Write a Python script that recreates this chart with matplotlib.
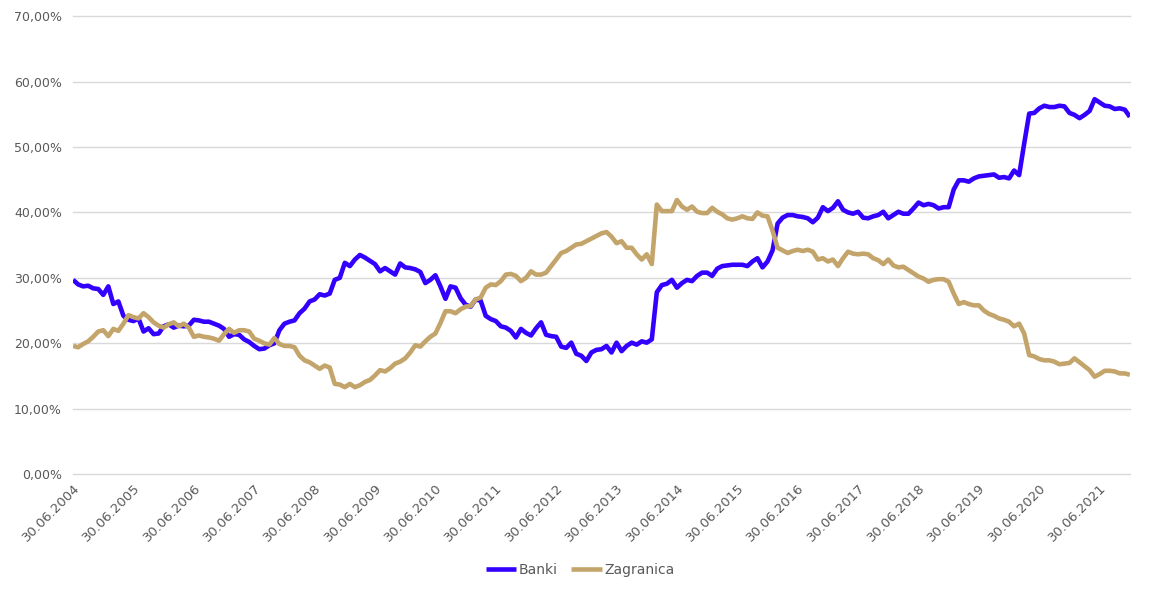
import matplotlib
matplotlib.use("Agg")
import matplotlib.pyplot as plt
from matplotlib.ticker import FuncFormatter, FixedLocator

# Monthly observations from 30.06.2004 to 31.12.2021 (shares, %)
banki = [
    29.7, 29.0, 28.7, 28.8, 28.4, 28.3, 27.4, 28.7, 26.0, 26.4, 24.2, 23.6,
    23.4, 23.8, 21.8, 22.3, 21.4, 21.5, 22.6, 22.9, 22.4, 22.7, 22.6, 22.7,
    23.6, 23.5, 23.3, 23.3, 23.0, 22.7, 22.2, 21.0, 21.4, 21.3, 20.6, 20.2,
    19.6, 19.1, 19.2, 19.7, 20.0, 22.0, 23.0, 23.3, 23.5, 24.6, 25.3, 26.4,
    26.7, 27.5, 27.3, 27.6, 29.7, 30.0, 32.3, 31.8, 32.8, 33.5, 33.1, 32.6,
    32.1, 31.0, 31.5, 31.0, 30.5, 32.2, 31.6, 31.5, 31.3, 30.9, 29.2, 29.7,
    30.4, 28.7, 26.8, 28.7, 28.5, 26.9, 25.9, 25.6, 26.7, 26.5, 24.2, 23.7,
    23.4, 22.6, 22.4, 21.9, 20.9, 22.2, 21.6, 21.2, 22.3, 23.2, 21.3, 21.1,
    21.0, 19.5, 19.3, 20.1, 18.4, 18.1, 17.3, 18.6, 19.0, 19.1, 19.6, 18.6,
    20.1, 18.8, 19.6, 20.1, 19.8, 20.3, 20.1, 20.6, 27.8, 28.9, 29.1, 29.7,
    28.5, 29.2, 29.7, 29.5, 30.3, 30.8, 30.8, 30.3, 31.4, 31.8, 31.9, 32.0,
    32.0, 32.0, 31.8, 32.5, 33.0, 31.6, 32.5, 34.2, 38.3, 39.2, 39.6, 39.6,
    39.4, 39.3, 39.1, 38.5, 39.2, 40.8, 40.2, 40.7, 41.7, 40.4, 40.0, 39.8,
    40.1, 39.2, 39.1, 39.4, 39.6, 40.1, 39.1, 39.6, 40.1, 39.8, 39.8, 40.6,
    41.5, 41.1, 41.3, 41.1, 40.6, 40.8, 40.8, 43.5, 44.9, 44.9, 44.7, 45.2,
    45.5, 45.6, 45.7, 45.8, 45.3, 45.4, 45.2, 46.4, 45.7, 50.5, 55.1, 55.2,
    55.9, 56.3, 56.1, 56.1, 56.3, 56.2, 55.2, 54.9, 54.4, 54.9, 55.5, 57.3,
    56.8, 56.3, 56.2, 55.8, 55.9, 55.7, 54.6,
]

zagranica = [
    19.6, 19.4, 19.9, 20.3, 21.0, 21.8, 22.0, 21.1, 22.2, 21.9, 23.0, 24.3,
    24.0, 23.8, 24.6, 24.0, 23.2, 22.7, 22.4, 22.9, 23.2, 22.6, 23.0, 22.4,
    21.0, 21.2, 21.0, 20.9, 20.7, 20.4, 21.4, 22.2, 21.6, 22.0, 22.0, 21.8,
    20.7, 20.4, 20.0, 19.8, 20.8, 19.9, 19.6, 19.6, 19.4, 18.1, 17.4, 17.1,
    16.6, 16.1, 16.6, 16.3, 13.8, 13.7, 13.3, 13.8, 13.3, 13.6, 14.1, 14.4,
    15.1, 15.9, 15.7, 16.2, 16.9, 17.2, 17.7, 18.6, 19.7, 19.5, 20.3, 21.0,
    21.5, 23.1, 24.9, 24.9, 24.6, 25.2, 25.6, 25.7, 26.7, 27.0, 28.5, 29.0,
    28.9, 29.5, 30.5, 30.6, 30.3, 29.5, 30.0, 31.0, 30.5, 30.5, 30.8, 31.8,
    32.8, 33.8, 34.1, 34.6, 35.1, 35.2, 35.6, 36.0, 36.4, 36.8, 37.0, 36.3,
    35.3, 35.6, 34.6, 34.6, 33.6, 32.8, 33.6, 32.1, 41.2, 40.2, 40.2, 40.2,
    41.9, 40.9, 40.4, 40.9, 40.1, 39.9, 39.9, 40.7, 40.1, 39.7, 39.1, 38.9,
    39.1, 39.4, 39.1, 39.0, 40.0, 39.5, 39.4, 37.2, 34.6, 34.2, 33.8, 34.1,
    34.3, 34.1, 34.3, 34.0, 32.8, 33.0, 32.5, 32.8, 31.8, 33.0, 34.0, 33.7,
    33.6, 33.7, 33.6, 33.0, 32.7, 32.1, 32.8, 31.9, 31.6, 31.7, 31.2, 30.7,
    30.2, 29.9, 29.4, 29.7, 29.8, 29.8, 29.4, 27.6, 26.0, 26.3, 26.0, 25.8,
    25.8, 25.0, 24.5, 24.2, 23.8, 23.6, 23.3, 22.6, 23.0, 21.5, 18.2, 18.0,
    17.6, 17.4, 17.4, 17.2, 16.8, 16.9, 17.0, 17.7, 17.1, 16.5, 15.9, 14.9,
    15.3, 15.8, 15.8, 15.7, 15.4, 15.4, 15.2,
]

tick_labels = ["30.06.2004", "30.06.2005", "30.06.2006", "30.06.2007",
               "30.06.2008", "30.06.2009", "30.06.2010", "30.06.2011",
               "30.06.2012", "30.06.2013", "30.06.2014", "30.06.2015",
               "30.06.2016", "30.06.2017", "30.06.2018", "30.06.2019",
               "30.06.2020", "30.06.2021"]
series_names = ["Banki", "Zagranica"]

BLUE = "#3300FF"
TAN = "#C3A46B"
TXT = "#595959"
GRID = "#D9D9D9"

plt.rcParams["font.family"] = ["DejaVu Sans"]

fig = plt.figure(figsize=(11.6, 5.95), dpi=100)
ax = fig.add_axes([0.063, 0.203, 0.911, 0.770])

months = list(range(len(banki)))
ax.plot(months, banki, color=BLUE, lw=3.3, label=series_names[0],
        solid_joinstyle="round", solid_capstyle="butt", zorder=3)
ax.plot(months, zagranica, color=TAN, lw=3.3, label=series_names[1],
        solid_joinstyle="round", solid_capstyle="butt", zorder=4)

ax.set_xlim(0, len(banki) - 1)
ax.set_ylim(0, 70)
ax.yaxis.set_major_locator(FixedLocator([0, 10, 20, 30, 40, 50, 60, 70]))
ax.yaxis.set_major_formatter(FuncFormatter(lambda v, p: f"{v:.2f}%".replace(".", ",")))
ax.set_xticks([12 * i for i in range(len(tick_labels))])
ax.set_xticklabels(tick_labels, rotation=45, ha="right", rotation_mode="anchor")

ax.grid(axis="y", color=GRID, lw=1.0, zorder=0)
for gl in ax.get_ygridlines():
    gl.set_clip_on(False)
ax.set_axisbelow(True)
for s in ax.spines.values():
    s.set_visible(False)
ax.tick_params(axis="both", length=0, colors=TXT)
ax.tick_params(axis="y", pad=8, labelsize=9)
ax.tick_params(axis="x", pad=5, labelsize=9.5)

leg = fig.legend(loc="center", bbox_to_anchor=(0.5, 0.042), ncol=2, frameon=False,
                 fontsize=10, handlelength=2.2, handletextpad=0.15, columnspacing=1.0)
for t in leg.get_texts():
    t.set_color(TXT)

fig.savefig("out.png", dpi=100, facecolor="white")
